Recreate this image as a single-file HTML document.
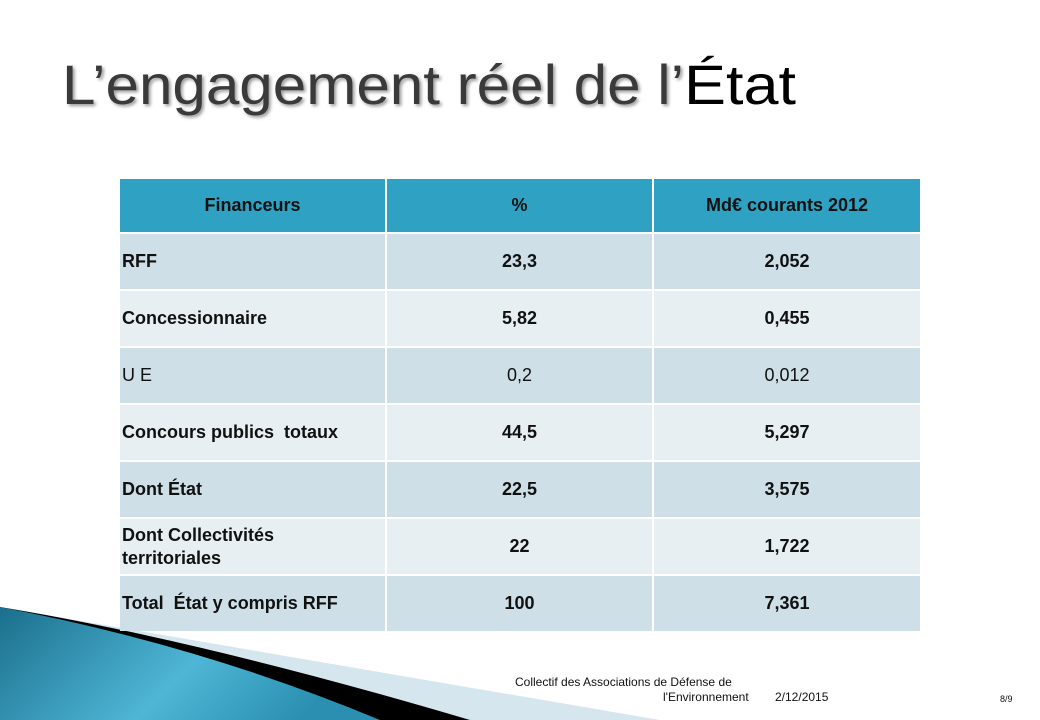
<!DOCTYPE html>
<html><head><meta charset="utf-8"><style>
body{margin:0;width:1040px;height:720px;background:#fff;overflow:hidden;position:relative;font-family:"Liberation Sans",sans-serif}
svg{position:absolute;left:0;top:0}
.c{position:absolute;box-sizing:border-box;display:flex;align-items:center;justify-content:center;font-size:18px;font-weight:bold;color:#111;line-height:23px}
.l{justify-content:flex-start;padding-left:2px}
.n{font-weight:normal}
.f{position:absolute;font-size:12px;color:#111}
</style></head><body>
<svg width="1040" height="720">
<defs>
<linearGradient id="g" x1="0" y1="0" x2="1" y2="0.3"><stop offset="0" stop-color="#1a6f8c"/><stop offset="0.6" stop-color="#4fb6d6"/><stop offset="1" stop-color="#2a8fb0"/></linearGradient>
<filter id="s"><feGaussianBlur stdDeviation="1.5"/></filter>
</defs>
<path d="M0,607 Q250,650 660,720 L0,720Z" fill="#d6e6ee"/>
<path d="M0,607 Q200,640 470,720 L0,720Z" fill="#000"/>
<path d="M0,607 Q200,645 380,720 L0,720Z" fill="url(#g)"/>
<text x="64" y="106" font-family="Liberation Sans" font-size="56" fill="#999" filter="url(#s)" textLength="622" lengthAdjust="spacingAndGlyphs">L’engagement réel de l’</text>
<text x="62" y="104" font-family="Liberation Sans" font-size="56" fill="#3a3a3a" textLength="622" lengthAdjust="spacingAndGlyphs">L’engagement réel de l’</text>
<text x="684" y="104" font-family="Liberation Sans" font-size="56" fill="#000" textLength="112" lengthAdjust="spacingAndGlyphs">État</text>
</svg>
<div id="t"></div>
<script>
var rows=[["Financeurs","%","Md€ courants 2012","h"],["RFF","23,3","2,052","a"],["Concessionnaire","5,82","0,455","b"],["U E","0,2","0,012","a n"],["Concours publics&nbsp; totaux","44,5","5,297","b"],["Dont État","22,5","3,575","a"],["Dont Collectivités<br>territoriales","22","1,722","b"],["Total&nbsp; État y compris RFF","100","7,361","a"]];
var xs=[120,387,654,920],col={h:"#2fa2c3",a:"#cedfe7",b:"#e7eff3"},h="",y=179;
rows.forEach(function(r,i){var hh=i==0?55:57;for(var j=0;j<3;j++){var cls="c"+(j==0&&i>0?" l":"")+(r[3].indexOf("n")>0?" n":"");h+='<div class="'+cls+'" style="left:'+xs[j]+'px;top:'+y+'px;width:'+(xs[j+1]-xs[j]-(j<2?2:0))+'px;height:'+(hh-2)+'px;background:'+col[r[3][0]]+'">'+r[j]+'</div>';}y+=hh;});
document.getElementById("t").innerHTML=h;
</script>
<div class="f" style="left:515px;top:675px">Collectif des Associations de Défense de</div>
<div class="f" style="left:663px;top:690px">l'Environnement</div>
<div class="f" style="left:775px;top:690px">2/12/2015</div>
<div class="f" style="left:1000px;top:694px;font-size:9px">8/9</div>
</body></html>
